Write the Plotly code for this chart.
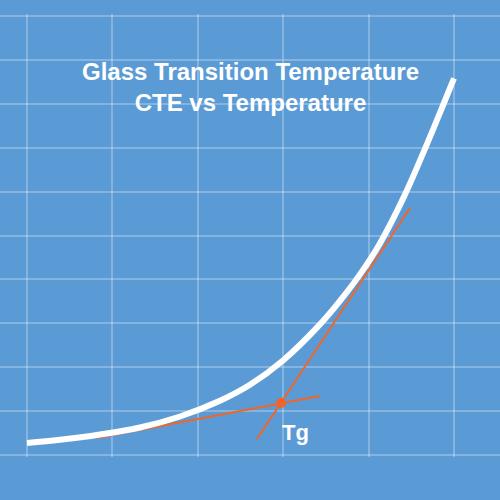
import plotly.graph_objects as go

# Curve (CTE vs temperature)
temp = [0.000, 0.386, 0.855, 1.323, 1.792, 2.260, 2.611, 2.998, 3.431, 3.665,
        3.899, 4.133, 4.415, 4.649, 4.871, 5.000]
cte = [0.273, 0.346, 0.467, 0.626, 0.877, 1.235, 1.599, 2.153, 2.975, 3.510,
       4.114, 4.820, 5.886, 6.923, 7.961, 8.581]

# Tangent lines
glass_x = [0.82, 3.43]
glass_y = [0.387, 1.344]
rubber_x = [2.693, 4.485]
rubber_y = [0.364, 5.626]

# Intersection (Tg)
tg_x = [2.974]
tg_y = [1.184]

x_ticks = [0, 1, 2, 3, 4, 5]
y_ticks = [0, 1, 2, 3, 4, 5, 6, 7, 8, 9, 10]

BLUE = "#5b9bd5"
ORANGE = "#f0652a"
GRID = "rgba(255,255,255,0.25)"

fig = go.Figure()
fig.add_trace(go.Scatter(x=glass_x, y=glass_y, mode="lines",
                         line=dict(color=ORANGE, width=2), hoverinfo="skip"))
fig.add_trace(go.Scatter(x=rubber_x, y=rubber_y, mode="lines",
                         line=dict(color=ORANGE, width=2), hoverinfo="skip"))
fig.add_trace(go.Scatter(x=temp, y=cte, mode="lines",
                         line=dict(color="white", width=6, shape="spline", smoothing=1.0),
                         hoverinfo="skip"))
fig.add_trace(go.Scatter(x=tg_x, y=tg_y, mode="markers",
                         marker=dict(color=ORANGE, size=10), hoverinfo="skip"))

fig.add_annotation(x=3.14, y=0.52, xref="x", yref="y", text="<b>Tg</b>",
                   showarrow=False, font=dict(family="Liberation Sans", size=22, color="white"))
fig.add_annotation(x=0.5, y=0.905, xref="paper", yref="paper",
                   text="<b>Glass Transition Temperature<br>CTE vs Temperature</b>",
                   showarrow=False, align="center",
                   font=dict(family="Liberation Sans", size=24, color="white"))

fig.update_layout(
    width=500, height=500,
    margin=dict(l=0, r=0, t=14, b=43),
    paper_bgcolor=BLUE, plot_bgcolor=BLUE,
    showlegend=False,
    xaxis=dict(range=[-0.316, 5.539], tickvals=x_ticks, showticklabels=False,
               showgrid=True, gridcolor=GRID, gridwidth=1.5, zeroline=False, showline=False),
    yaxis=dict(range=[-0.0456, 10.0456], tickvals=y_ticks, showticklabels=False,
               showgrid=True, gridcolor=GRID, gridwidth=1.5, zeroline=False, showline=False),
)

fig.write_html("out.html", config={"displayModeBar": False},
               post_script="document.body.style.margin='0';document.body.style.background='%s';" % BLUE)
